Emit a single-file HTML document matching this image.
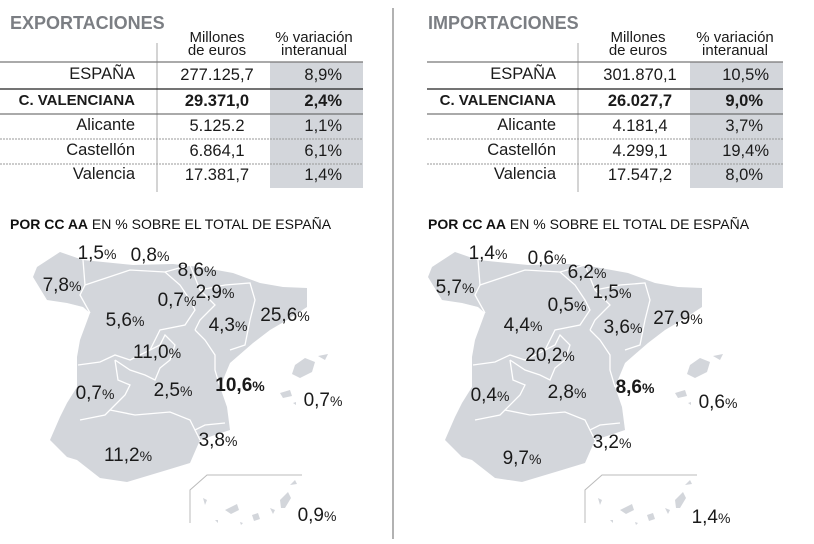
<!DOCTYPE html>
<html><head><meta charset="utf-8"><style>
body{margin:0;background:#fff;width:814px;height:539px;overflow:hidden}
svg{font-family:"Liberation Sans",sans-serif}
.t{font-size:16.5px;fill:#1a1a1a}
.b{font-weight:bold}
.h{font-size:15px;fill:#1a1a1a}
.m{font-size:19px;fill:#1a1a1a}
.m tspan{font-size:14px}
</style></head><body>
<svg width="814" height="539" viewBox="0 0 814 539">
<defs>
<g id="map">
<path fill="#d3d6db" d="M37,267 L60,252 L83,260 L133,265 L173,264 L200,267 L233,273 L260,283 L283,287 L307,288 L307,307 L287,320 L270,330 L253,343 L230,363 L220,387 L227,407 L230,430 L200,440 L190,463 L167,470 L127,482 L100,478 L77,460 L67,457 L50,440 L60,417 L67,403 L77,387 L77,357 L80,340 L90,313 L83,307 L67,303 L47,300 L33,277 Z"/>
<g fill="none" stroke="#fff" stroke-width="1.3">
<path d="M83,260 L85,285 L80,295 L90,313"/>
<path d="M85,285 L130,270 L165,272 L190,265"/>
<path d="M165,272 L180,285 L190,300 L195,310 L185,325 L160,330 L150,350 L130,360 L115,355 L100,362 L78,365"/>
<path d="M190,265 L200,290 L215,305 L200,320 L195,330"/>
<path d="M200,290 L225,285 L250,283 L255,300 L250,320 L245,345 L230,350"/>
<path d="M195,330 L205,340 L215,355 L215,370 L220,387"/>
<path d="M150,350 L160,345 L165,335 L175,345 L170,360 L160,368 L155,380 L145,375 L130,370 L115,360"/>
<path d="M115,360 L118,380 L130,385 L125,395 L110,410 L105,415 L80,420"/>
<path d="M110,410 L135,415 L170,412 L190,420 L195,430 L205,425 L225,423"/>
<path d="M195,430 L200,440"/>
</g>
<path fill="#d3d6db" d="M295,365 L305,358 L315,362 L312,372 L300,378 L292,374 Z M318,356 L328,354 L325,360 Z M280,393 L290,390 L292,396 L283,398 Z M293,403 L296,402 L296,405 Z"/>
<path fill="none" stroke="#bbb" stroke-width="1" d="M190,523 L190,490 L207,475 L302,475"/>
<path fill="#d3d6db" d="M203,498 l4,2 l-2,5 z M225,510 l12,-6 l2,6 l-8,4 z M252,515 l6,-2 l2,6 l-6,2 z M270,508 l5,2 l-2,4 z M280,500 l8,-8 l3,6 l-6,10 l-4,0 z M290,485 l5,-5 l2,4 z M215,520 l3,0 l0,3 z M240,522 l3,1 l-2,2 z"/>
</g>
</defs>

<line x1="393" y1="8" x2="393" y2="539" stroke="#999" stroke-width="1.5"/>

<text x="10" y="29" font-size="18" font-weight="bold" fill="#7b7e83">EXPORTACIONES</text>
<text x="217" y="42" text-anchor="middle" class="h">Millones</text>
<text x="217" y="55" text-anchor="middle" class="h">de euros</text>
<text x="314" y="42" text-anchor="middle" class="h">% variación</text>
<text x="314" y="55" text-anchor="middle" class="h">interanual</text>
<rect x="270" y="62" width="93" height="126" fill="#d3d6db"/>
<line x1="157" y1="43" x2="157" y2="192" stroke="#aaa"/>
<line x1="0" y1="62" x2="363" y2="62" stroke="#777" stroke-width="1.2"/>
<line x1="0" y1="89" x2="363" y2="89" stroke="#222" stroke-width="1.3"/>
<line x1="0" y1="114" x2="363" y2="114" stroke="#555" stroke-width="1"/>
<line x1="0" y1="139" x2="363" y2="139" stroke="#999" stroke-dasharray="2,1"/>
<line x1="0" y1="164" x2="363" y2="164" stroke="#999" stroke-dasharray="2,1"/>
<g class="t">
<text x="135" y="79" text-anchor="end">ESPAÑA</text>
<text x="217" y="80" text-anchor="middle">277.125,7</text>
<text x="342" y="80" text-anchor="end">8,9%</text>
<text x="135" y="105" text-anchor="end" class="b" font-size="15">C. VALENCIANA</text>
<text x="217" y="106" text-anchor="middle" class="b">29.371,0</text>
<text x="342" y="106" text-anchor="end" class="b">2,4%</text>
<text x="135" y="130" text-anchor="end">Alicante</text>
<text x="217" y="131" text-anchor="middle">5.125.2</text>
<text x="342" y="131" text-anchor="end">1,1%</text>
<text x="135" y="155" text-anchor="end">Castellón</text>
<text x="217" y="156" text-anchor="middle">6.864,1</text>
<text x="342" y="156" text-anchor="end">6,1%</text>
<text x="135" y="179" text-anchor="end">Valencia</text>
<text x="217" y="180" text-anchor="middle">17.381,7</text>
<text x="342" y="180" text-anchor="end">1,4%</text>
</g>
<text x="10" y="229" font-size="14" fill="#111"><tspan font-weight="bold">POR CC AA</tspan> EN % SOBRE EL TOTAL DE ESPAÑA</text>

<text x="428" y="29" font-size="18" font-weight="bold" fill="#7b7e83">IMPORTACIONES</text>
<text x="638" y="42" text-anchor="middle" class="h">Millones</text>
<text x="638" y="55" text-anchor="middle" class="h">de euros</text>
<text x="735" y="42" text-anchor="middle" class="h">% variación</text>
<text x="735" y="55" text-anchor="middle" class="h">interanual</text>
<rect x="690" y="62" width="93" height="126" fill="#d3d6db"/>
<line x1="578" y1="43" x2="578" y2="192" stroke="#aaa"/>
<line x1="427" y1="62" x2="783" y2="62" stroke="#777" stroke-width="1.2"/>
<line x1="427" y1="89" x2="783" y2="89" stroke="#222" stroke-width="1.3"/>
<line x1="427" y1="114" x2="783" y2="114" stroke="#555" stroke-width="1"/>
<line x1="427" y1="139" x2="783" y2="139" stroke="#999" stroke-dasharray="2,1"/>
<line x1="427" y1="164" x2="783" y2="164" stroke="#999" stroke-dasharray="2,1"/>
<g class="t">
<text x="556" y="79" text-anchor="end">ESPAÑA</text>
<text x="640" y="80" text-anchor="middle">301.870,1</text>
<text x="769" y="80" text-anchor="end">10,5%</text>
<text x="556" y="105" text-anchor="end" class="b" font-size="15">C. VALENCIANA</text>
<text x="640" y="106" text-anchor="middle" class="b">26.027,7</text>
<text x="763" y="106" text-anchor="end" class="b">9,0%</text>
<text x="556" y="130" text-anchor="end">Alicante</text>
<text x="640" y="131" text-anchor="middle">4.181,4</text>
<text x="763" y="131" text-anchor="end">3,7%</text>
<text x="556" y="155" text-anchor="end">Castellón</text>
<text x="640" y="156" text-anchor="middle">4.299,1</text>
<text x="769" y="156" text-anchor="end">19,4%</text>
<text x="556" y="179" text-anchor="end">Valencia</text>
<text x="640" y="180" text-anchor="middle">17.547,2</text>
<text x="763" y="180" text-anchor="end">8,0%</text>
</g>
<text x="428" y="229" font-size="14" fill="#111"><tspan font-weight="bold">POR CC AA</tspan> EN % SOBRE EL TOTAL DE ESPAÑA</text>

<use href="#map"/>
<use href="#map" transform="translate(395,0)"/>

<g class="m" text-anchor="middle">
<text x="97" y="259">1,5<tspan>%</tspan></text>
<text x="150" y="261">0,8<tspan>%</tspan></text>
<text x="197" y="276">8,6<tspan>%</tspan></text>
<text x="62" y="291">7,8<tspan>%</tspan></text>
<text x="215" y="298">2,9<tspan>%</tspan></text>
<text x="177" y="306">0,7<tspan>%</tspan></text>
<text x="125" y="326">5,6<tspan>%</tspan></text>
<text x="228" y="331">4,3<tspan>%</tspan></text>
<text x="285" y="321">25,6<tspan>%</tspan></text>
<text x="157" y="358">11,0<tspan>%</tspan></text>
<text x="240" y="391" font-weight="bold">10,6<tspan>%</tspan></text>
<text x="173" y="396">2,5<tspan>%</tspan></text>
<text x="95" y="399">0,7<tspan>%</tspan></text>
<text x="323" y="406">0,7<tspan>%</tspan></text>
<text x="218" y="446">3,8<tspan>%</tspan></text>
<text x="128" y="461">11,2<tspan>%</tspan></text>
<text x="317" y="521">0,9<tspan>%</tspan></text>

<text x="488" y="259">1,4<tspan>%</tspan></text>
<text x="547" y="264">0,6<tspan>%</tspan></text>
<text x="587" y="278">6,2<tspan>%</tspan></text>
<text x="455" y="293">5,7<tspan>%</tspan></text>
<text x="612" y="298">1,5<tspan>%</tspan></text>
<text x="567" y="311">0,5<tspan>%</tspan></text>
<text x="523" y="331">4,4<tspan>%</tspan></text>
<text x="623" y="333">3,6<tspan>%</tspan></text>
<text x="678" y="324">27,9<tspan>%</tspan></text>
<text x="550" y="361">20,2<tspan>%</tspan></text>
<text x="635" y="393" font-weight="bold">8,6<tspan>%</tspan></text>
<text x="567" y="398">2,8<tspan>%</tspan></text>
<text x="490" y="401">0,4<tspan>%</tspan></text>
<text x="718" y="408">0,6<tspan>%</tspan></text>
<text x="612" y="448">3,2<tspan>%</tspan></text>
<text x="522" y="464">9,7<tspan>%</tspan></text>
<text x="711" y="523">1,4<tspan>%</tspan></text>
</g>
</svg>
</body></html>
